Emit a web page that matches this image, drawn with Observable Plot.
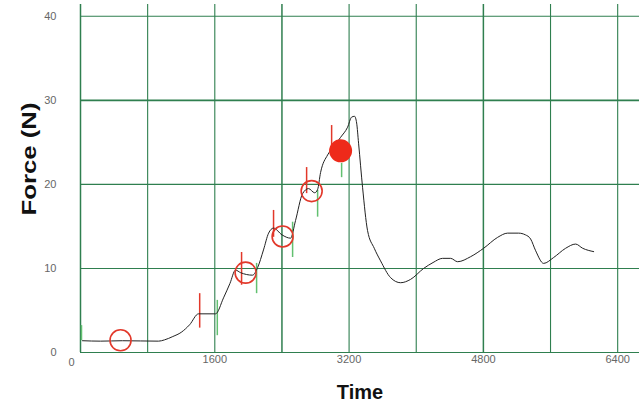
<!DOCTYPE html>
<html>
<head>
<meta charset="utf-8">
<script src="https://cdn.jsdelivr.net/npm/d3@7"></script>
<script src="https://cdn.jsdelivr.net/npm/@observablehq/plot@0.6"></script>
<style>
  html, body { margin: 0; padding: 0; background: #fff; }
</style>
</head>
<body>
<div id="chart"></div>
<script>
// Force trace (Time, Force)
const curveX = [24, 238, 500, 930, 1000, 1100, 1200, 1300, 1406, 1609, 1704, 1780, 1847, 1907, 2050, 2110, 2180, 2241, 2300, 2400, 2503, 2562, 2646, 2717, 2790, 2825, 2860, 2944, 3020, 3099, 3182, 3230, 3265, 3290, 3313, 3361, 3420, 3500, 3575, 3695, 3814, 3933, 4088, 4200, 4314, 4410, 4493, 4648, 4803, 4970, 5089, 5220, 5300, 5363, 5423, 5518, 5637, 5780, 5899, 5983, 6114];
const curveY = [1.4, 1.35, 1.4, 1.35, 1.5, 1.9, 2.4, 3.3, 4.6, 4.6, 6.5, 8.2, 9.8, 9.5, 9.2, 10.1, 12.2, 14.2, 14.8, 14.0, 13.6, 15.7, 18.9, 19.5, 19.0, 19.4, 21.4, 23.5, 24.5, 25.6, 26.8, 28.0, 28.1, 27.3, 24.9, 19.6, 14.5, 12.4, 10.9, 8.9, 8.3, 8.7, 10.0, 10.7, 11.2, 11.2, 10.8, 11.4, 12.4, 13.7, 14.2, 14.2, 14.0, 13.5, 12.1, 10.6, 11.3, 12.4, 12.9, 12.4, 12.0];

// Sample markers
const circleX = [477, 1967, 2408, 2754];
const circleY = [1.45, 9.5, 13.8, 19.2];
const currentX = [3099];
const currentY = [24.0];

// Red (before) and green (after) interval ticks
const redX = [1420, 1919, 2300, 2694, 2992];
const redLow = [2.9, 8.0, 13.7, 18.9, 24.0];
const redHigh = [7.0, 11.9, 16.9, 22.0, 27.0];
const greenX = [12, 1630, 2098, 2527, 2825, 3111];
const greenLow = [1.4, 2.0, 7.0, 11.3, 16.1, 20.8];
const greenHigh = [3.2, 6.2, 10.6, 15.5, 19.3, 22.5];

// Grid / tick values
const xGrid = [0, 800, 1600, 2400, 3200, 4000, 4800, 5600, 6400];
const yGrid = [0, 10, 20, 30, 40];
const xTickLabels = [1600, 3200, 4800, 6400];
const yTickLabels = [0, 10, 20, 30, 40];

const curve = curveX.map((x, i) => ({x, y: curveY[i]}));
const circles = circleX.map((x, i) => ({x, y: circleY[i]}));
const current = currentX.map((x, i) => ({x, y: currentY[i]}));
const reds = redX.map((x, i) => ({x, y1: redLow[i], y2: redHigh[i]}));
const greens = greenX.map((x, i) => ({x, y1: greenLow[i], y2: greenHigh[i]}));

const gridColor = "#2f7f4f";
const labelColor = "#666";
const fmt = d => String(d);

const chart = Plot.plot({
  width: 639,
  height: 405,
  marginLeft: 80,
  marginRight: 0,
  marginTop: 4,
  marginBottom: 53,
  style: {fontFamily: "'Liberation Sans', Arial, sans-serif", background: "#fff"},
  x: {domain: [0, 6660], axis: null},
  y: {domain: [0, 41.4], axis: null},
  marks: [
    Plot.ruleX(xGrid, {stroke: gridColor, strokeWidth: d => (d === 2400 || d === 4800 || d === 0) ? 1.5 : 1.1}),
    Plot.ruleY(yGrid, {stroke: gridColor, strokeWidth: d => (d === 30) ? 1.8 : 1.1}),
    Plot.axisY({ticks: yTickLabels, tickFormat: fmt, tickSize: 0, tickPadding: 24, fontSize: 11, fill: labelColor, label: null}),
    Plot.axisX({ticks: xTickLabels, tickFormat: fmt, tickSize: 0, tickPadding: 3, fontSize: 11, fill: labelColor, label: null}),
    Plot.axisX({ticks: [0], tickFormat: fmt, tickSize: 0, tickPadding: 6, dx: -9, fontSize: 11, fill: labelColor, label: null}),
    Plot.ruleX(greens, {x: "x", y1: "y1", y2: "y2", stroke: "#62c070", strokeWidth: 1.5}),
    Plot.ruleX(reds, {x: "x", y1: "y1", y2: "y2", stroke: "#e2382a", strokeWidth: 1.5}),
    Plot.line(curve, {x: "x", y: "y", stroke: "#222", strokeWidth: 1, curve: "monotone-x"}),
    Plot.dot(circles, {x: "x", y: "y", r: 10.5, stroke: "#e2382a", strokeWidth: 1.6, fill: "none"}),
    Plot.dot(current, {x: "x", y: "y", r: 11.5, fill: "#ee2a1a", stroke: "none"}),
    Plot.text(["Force (N)"], {frameAnchor: "left", dx: -51, dy: -19.5, rotate: -90, fontSize: 20, fontWeight: "bold", fill: "#111", textAnchor: "middle", lineAnchor: "middle"}),
    Plot.text(["Time"], {frameAnchor: "bottom", dy: 40, fontSize: 20, fontWeight: "bold", fill: "#111", textAnchor: "middle", lineAnchor: "middle"})
  ]
});

document.getElementById("chart").appendChild(chart);
chart.querySelectorAll("text").forEach(t => {
  if (t.textContent === "Force (N)") {
    t.setAttribute("textLength", "113");
    t.setAttribute("lengthAdjust", "spacingAndGlyphs");
  }
});
</script>
</body>
</html>
